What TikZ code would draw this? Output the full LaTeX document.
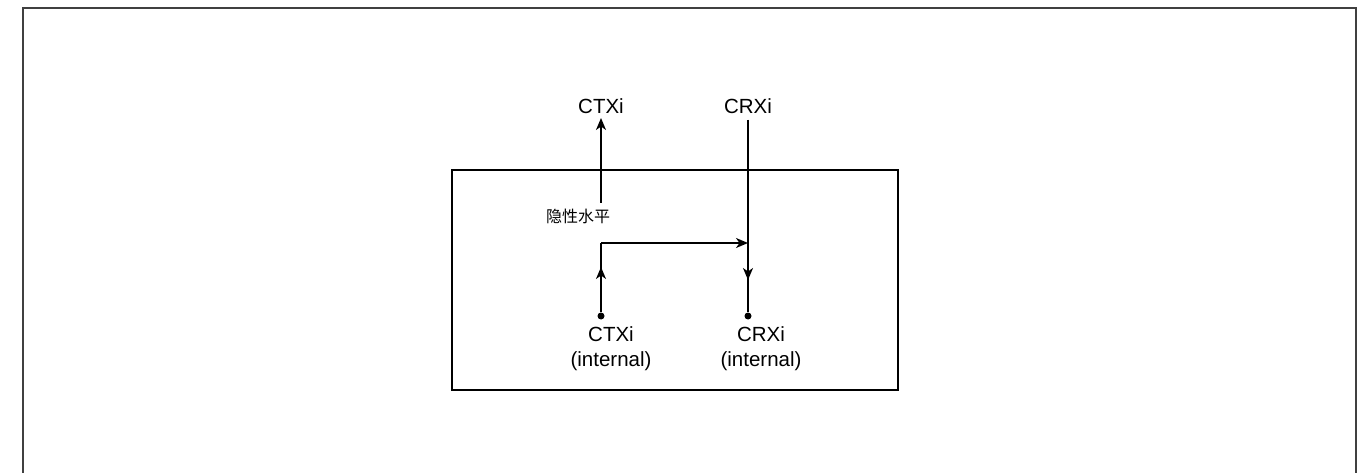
\documentclass[tikz,border=0pt]{standalone}
\usepackage{fontspec}
\setmainfont{Liberation Sans}
\newfontfamily\cjk{Noto Sans CJK SC}
\usetikzlibrary{arrows.meta}
\begin{document}
\begin{tikzpicture}[x=1pt,y=-1pt,
  lbl/.style={inner sep=0pt,font=\fontsize{20.5}{25}\selectfont,align=center},
  wire/.style={line width=1.5pt,black},
  arr/.style={-{Stealth[length=12pt,width=10pt,inset=3.5pt]}},
  dotnode/.style={circle,fill=black,inner sep=0pt,minimum size=7pt}]
\useasboundingbox (0,0) rectangle (1370,473);
\draw[line width=2pt,black!75] (23,490) -- (23,8) -- (1356,8) -- (1356,490);
\draw[line width=1.4pt] (452,170) rectangle (898,390);
\node[lbl] (ctxo) at (601,106) {CTXi};
\node[lbl] (crxo) at (748,106) {CRXi};
\node[inner sep=0pt,font=\cjk\fontsize{16}{18}\selectfont] (hid) at (578,216) {隐性水平};
\coordinate (ctxs) at (601,203);
\coordinate (ctxtip) at (601,118);
\coordinate (crxtop) at (748,120);
\node[dotnode] (ctxd) at (601,316) {};
\node[dotnode] (crxd) at (748,316) {};
\coordinate (bend) at (601,243);
\coordinate (crxm) at (748,243);
\coordinate (ctxmid) at (601,267);
\coordinate (crxmid) at (748,280);
\node[lbl] (ctxi) at (611,349) {CTXi\\(internal)};
\node[lbl] (crxi) at (761,349) {CRXi\\(internal)};
\draw[wire,arr] (ctxs) -- (ctxtip);
\draw[wire] (crxtop) -- (crxd);
\draw[wire,arr] (crxtop) -- (crxmid);
\draw[wire] (ctxd) -- (bend);
\draw[wire,arr] (ctxd) -- (ctxmid);
\draw[wire,arr] (bend) -- (crxm);
\end{tikzpicture}
\end{document}
